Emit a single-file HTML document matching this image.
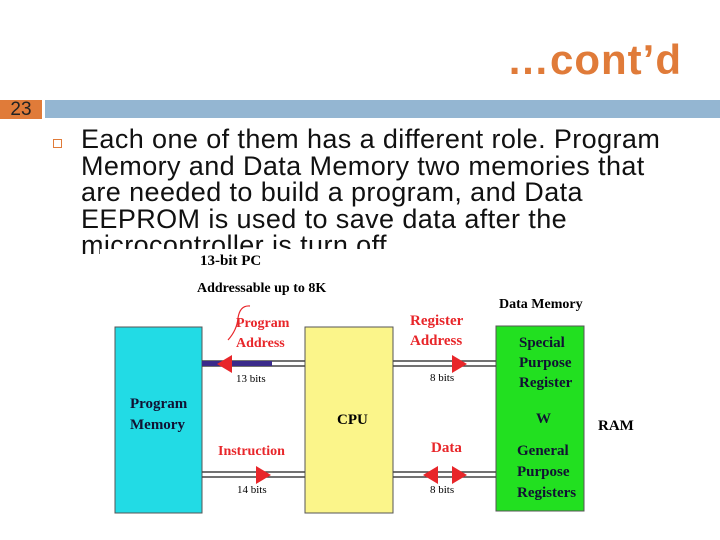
<!DOCTYPE html>
<html><head><style>
body{margin:0;width:720px;height:540px;position:relative;background:#fff;font-family:"Liberation Sans",sans-serif;overflow:hidden}
.a{position:absolute}
.t{font-family:"Liberation Serif",serif;font-weight:bold;position:absolute;white-space:nowrap}
.r{color:#e8262a}
</style></head><body>
<div class="a" style="right:38px;top:36px;font-size:42px;letter-spacing:1px;font-weight:bold;color:#e07b39">…cont’d</div>
<div class="a" style="left:0;top:100px;width:42px;height:19px;background:#e07b39;font-size:19px;line-height:19px;text-align:center;color:#222">23</div>
<div class="a" style="left:45px;top:100px;width:675px;height:18px;background:#94b6d2"></div>
<div class="a" style="left:53px;top:139px;width:7px;height:7px;border:1.5px solid #e07b39"></div>
<div class="a" style="left:81px;top:126px;font-size:27px;letter-spacing:0.4px;line-height:26.5px;color:#111;white-space:nowrap">Each one of them has a different role. Program<br>Memory and Data Memory two memories that<br>are needed to build a program, and Data<br>EEPROM is used to save data after the<br>microcontroller is turn off.</div>
<div class="a" style="left:100px;top:249px;width:550px;height:285px;background:#fff"></div>
<svg class="a" style="left:0;top:0" width="720" height="540">
<rect x="115" y="327" width="87" height="186" fill="#22dbe5" stroke="#555"/>
<rect x="305" y="327" width="88" height="186" fill="#fbf58a" stroke="#555"/>
<rect x="496" y="326" width="88" height="185" fill="#22e020" stroke="#555"/>
<g stroke="#444" stroke-width="1.5">
<line x1="202" y1="361" x2="305" y2="361"/><line x1="202" y1="366" x2="305" y2="366"/>
<line x1="202" y1="472" x2="305" y2="472"/><line x1="202" y1="477" x2="305" y2="477"/>
<line x1="393" y1="361" x2="496" y2="361"/><line x1="393" y1="366" x2="496" y2="366"/>
<line x1="393" y1="472" x2="496" y2="472"/><line x1="393" y1="477" x2="496" y2="477"/>
</g>
<rect x="202" y="361" width="70" height="5" fill="#3a2a8a"/>
<g fill="#e8262a">
<path d="M217 364 L232 355 L232 373Z"/>
<path d="M271 475 L256 466 L256 484Z"/>
<path d="M467 364 L452 355 L452 373Z"/>
<path d="M467 475 L452 466 L452 484Z"/>
<path d="M423 475 L438 466 L438 484Z"/>
</g>
<path d="M250 306 Q240 305 238 318 Q237 330 228 340" stroke="#e8262a" fill="none" stroke-width="1.2"/>
</svg>
<div class="t" style="left:200px;top:253px;font-size:15px">13-bit PC</div>
<div class="t" style="left:197px;top:281px;font-size:14px">Addressable up to 8K</div>
<div class="t r" style="left:236px;top:314px;font-size:14px;line-height:20px">Program<br>Address</div>
<div class="t" style="left:236px;top:373px;font-size:11px;font-weight:normal">13 bits</div>
<div class="t" style="left:130px;top:394px;font-size:15px;line-height:21px;color:#113">Program<br>Memory</div>
<div class="t" style="left:337px;top:412px;font-size:15px">CPU</div>
<div class="t r" style="left:218px;top:444px;font-size:14px">Instruction</div>
<div class="t" style="left:237px;top:484px;font-size:11px;font-weight:normal">14 bits</div>
<div class="t" style="left:499px;top:297px;font-size:14px">Data Memory</div>
<div class="t r" style="left:410px;top:311px;font-size:15px;line-height:20px">Register<br>Address</div>
<div class="t" style="left:430px;top:372px;font-size:11px;font-weight:normal">8 bits</div>
<div class="t r" style="left:431px;top:440px;font-size:15px">Data</div>
<div class="t" style="left:430px;top:484px;font-size:11px;font-weight:normal">8 bits</div>
<div class="t" style="left:519px;top:333px;font-size:15px;line-height:20px;color:#113">Special<br>Purpose<br>Register</div>
<div class="t" style="left:536px;top:411px;font-size:15px;color:#113">W</div>
<div class="t" style="left:517px;top:441px;font-size:15px;line-height:21px;color:#113">General<br>Purpose<br>Registers</div>
<div class="t" style="left:598px;top:418px;font-size:15px">RAM</div>
</body></html>
